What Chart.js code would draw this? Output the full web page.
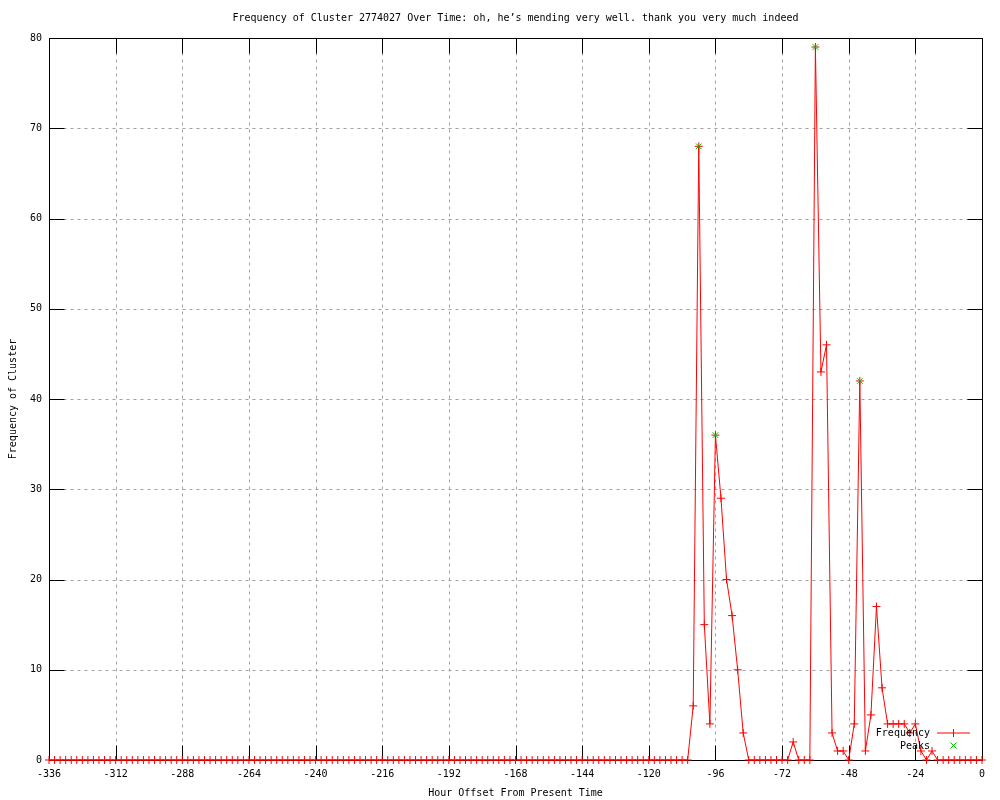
<!DOCTYPE html>
<html>
<head>
<meta charset="utf-8">
<script src="https://cdn.jsdelivr.net/npm/chart.js@4/dist/chart.umd.min.js"></script>
<style>
  html, body { margin: 0; padding: 0; background: #fff; }
  #wrap { width: 1000px; height: 800px; }
</style>
</head>
<body>
<div id="wrap"><canvas id="clusterChart" width="1000" height="800"></canvas></div>
<script>
const titleText = 'Frequency of Cluster 2774027 Over Time: oh, he\u2019s mending very well. thank you very much indeed';
const xTitle = 'Hour Offset From Present Time';
const yTitle = 'Frequency of Cluster';

const xTicks = [-336, -312, -288, -264, -240, -216, -192, -168, -144, -120, -96, -72, -48, -24, 0];
const yTicks = [0, 10, 20, 30, 40, 50, 60, 70, 80];

const hours = [
  -336, -334, -332, -330, -328, -326, -324, -322, -320, -318, -316, -314,
  -312, -310, -308, -306, -304, -302, -300, -298, -296, -294, -292, -290,
  -288, -286, -284, -282, -280, -278, -276, -274, -272, -270, -268, -266,
  -264, -262, -260, -258, -256, -254, -252, -250, -248, -246, -244, -242,
  -240, -238, -236, -234, -232, -230, -228, -226, -224, -222, -220, -218,
  -216, -214, -212, -210, -208, -206, -204, -202, -200, -198, -196, -194,
  -192, -190, -188, -186, -184, -182, -180, -178, -176, -174, -172, -170,
  -168, -166, -164, -162, -160, -158, -156, -154, -152, -150, -148, -146,
  -144, -142, -140, -138, -136, -134, -132, -130, -128, -126, -124, -122,
  -120, -118, -116, -114, -112, -110, -108, -106, -104, -102, -100, -98,
  -96, -94, -92, -90, -88, -86, -84, -82, -80, -78, -76, -74,
  -72, -70, -68, -66, -64, -62, -60, -58, -56, -54, -52, -50,
  -48, -46, -44, -42, -40, -38, -36, -34, -32, -30, -28, -26,
  -24, -22, -20, -18, -16, -14, -12, -10, -8, -6, -4, -2,
  0
];

const frequency = [
  0, 0, 0, 0, 0, 0, 0, 0, 0, 0, 0, 0,
  0, 0, 0, 0, 0, 0, 0, 0, 0, 0, 0, 0,
  0, 0, 0, 0, 0, 0, 0, 0, 0, 0, 0, 0,
  0, 0, 0, 0, 0, 0, 0, 0, 0, 0, 0, 0,
  0, 0, 0, 0, 0, 0, 0, 0, 0, 0, 0, 0,
  0, 0, 0, 0, 0, 0, 0, 0, 0, 0, 0, 0,
  0, 0, 0, 0, 0, 0, 0, 0, 0, 0, 0, 0,
  0, 0, 0, 0, 0, 0, 0, 0, 0, 0, 0, 0,
  0, 0, 0, 0, 0, 0, 0, 0, 0, 0, 0, 0,
  0, 0, 0, 0, 0, 0, 0, 0, 6, 68, 15, 4,
  36, 29, 20, 16, 10, 3, 0, 0, 0, 0, 0, 0,
  0, 0, 2, 0, 0, 0, 79, 43, 46, 3, 1, 1,
  0, 4, 42, 1, 5, 17, 8, 4, 4, 4, 4, 3,
  4, 1, 0, 1, 0, 0, 0, 0, 0, 0, 0, 0,
  0
];

const peakHours = [-102, -96, -60, -44];
const peakValues = [68, 36, 79, 42];

const FONT = '10px "DejaVu Sans Mono", monospace';
const RED = 'rgb(255, 0, 0)';
const GREEN = 'rgb(0, 192, 0)';

// gnuplot-like frame: dotted grid, black border, inward ticks, texts, key
const gnuplotFrame = {
  id: 'gnuplotFrame',
  beforeDatasetsDraw(chart) {
    const { ctx, chartArea: a, scales: { x, y } } = chart;
    const L = Math.round(a.left) + 0.5, R = Math.round(a.right) + 0.5;
    const T = Math.round(a.top) + 0.5, B = Math.round(a.bottom) + 0.5;
    const line = (x1, y1, x2, y2) => { ctx.beginPath(); ctx.moveTo(x1, y1); ctx.lineTo(x2, y2); ctx.stroke(); };
    ctx.save();
    ctx.lineWidth = 1;
    ctx.strokeStyle = '#a0a0a0';
    ctx.setLineDash([3, 4]);
    xTicks.forEach(v => { const px = Math.round(x.getPixelForValue(v)) + 0.5; line(px, T, px, B); });
    yTicks.forEach(v => { const py = Math.round(y.getPixelForValue(v)) + 0.5; line(L, py, R, py); });
    ctx.setLineDash([]);
    ctx.strokeStyle = '#000';
    ctx.strokeRect(L, T, R - L, B - T);
    const tl = 15;
    xTicks.forEach(v => {
      const px = Math.round(x.getPixelForValue(v)) + 0.5;
      line(px, B, px, B - tl);
      line(px, T, px, T + tl);
    });
    yTicks.forEach(v => {
      const py = Math.round(y.getPixelForValue(v)) + 0.5;
      line(L, py, L + tl, py);
      line(R, py, R - tl, py);
    });
    ctx.restore();
  },
  afterDraw(chart) {
    const { ctx, chartArea: a } = chart;
    ctx.save();
    ctx.fillStyle = '#000';
    ctx.font = FONT;
    ctx.textAlign = 'center';
    ctx.textBaseline = 'middle';
    const cx = (a.left + a.right) / 2;
    ctx.fillText(titleText, cx, 18);
    ctx.fillText(xTitle, cx, 793);
    ctx.save();
    ctx.translate(13, (a.top + a.bottom) / 2);
    ctx.rotate(-Math.PI / 2);
    ctx.fillText(yTitle, 0, 0);
    ctx.restore();

    // key, bottom right inside the plot
    const labels = chart.data.datasets.map(d => d.label);
    ctx.textAlign = 'right';
    ctx.fillText(labels[0], 930, 733);
    ctx.fillText(labels[1], 930, 746);

    ctx.lineWidth = 1;
    ctx.strokeStyle = RED;
    ctx.beginPath();
    ctx.moveTo(937, 733); ctx.lineTo(970, 733);
    ctx.moveTo(953.5, 729); ctx.lineTo(953.5, 737);
    ctx.stroke();

    ctx.strokeStyle = GREEN;
    ctx.beginPath();
    ctx.moveTo(950.5, 742.5); ctx.lineTo(956.5, 748.5);
    ctx.moveTo(950.5, 748.5); ctx.lineTo(956.5, 742.5);
    ctx.stroke();
    ctx.restore();
  }
};

new Chart(document.getElementById('clusterChart'), {
  type: 'line',
  data: {
    datasets: [
      {
        label: 'Frequency',
        data: hours.map((h, i) => ({ x: h, y: frequency[i] })),
        borderColor: RED,
        borderWidth: 1,
        pointStyle: 'cross',
        pointRadius: 4,
        pointBorderColor: RED,
        pointBorderWidth: 1,
        tension: 0,
        fill: false,
        clip: false,
        order: 2
      },
      {
        label: 'Peaks',
        data: peakHours.map((h, i) => ({ x: h, y: peakValues[i] })),
        showLine: false,
        pointStyle: 'crossRot',
        pointRadius: 4,
        pointBorderColor: GREEN,
        pointBorderWidth: 1,
        clip: false,
        order: 1
      }
    ]
  },
  options: {
    responsive: false,
    animation: false,
    events: [],
    layout: { padding: { top: 38, right: 18, left: 0, bottom: 0 } },
    plugins: {
      legend: { display: false },
      title: { display: false },
      tooltip: { enabled: false }
    },
    scales: {
      x: {
        type: 'linear',
        min: -336,
        max: 0,
        afterBuildTicks: s => { s.ticks = xTicks.map(v => ({ value: v })); },
        afterFit: s => { s.height = 40; },
        grid: { display: false, drawTicks: false },
        border: { display: false },
        ticks: {
          autoSkip: false,
          maxRotation: 0,
          padding: 8,
          color: '#000',
          font: { family: '"DejaVu Sans Mono", monospace', size: 10 }
        }
      },
      y: {
        type: 'linear',
        min: 0,
        max: 80,
        afterBuildTicks: s => { s.ticks = yTicks.map(v => ({ value: v })); },
        afterFit: s => { s.width = 49; },
        grid: { display: false, drawTicks: false },
        border: { display: false },
        ticks: {
          padding: 7,
          color: '#000',
          font: { family: '"DejaVu Sans Mono", monospace', size: 10 }
        }
      }
    }
  },
  plugins: [gnuplotFrame]
});
</script>
</body>
</html>
